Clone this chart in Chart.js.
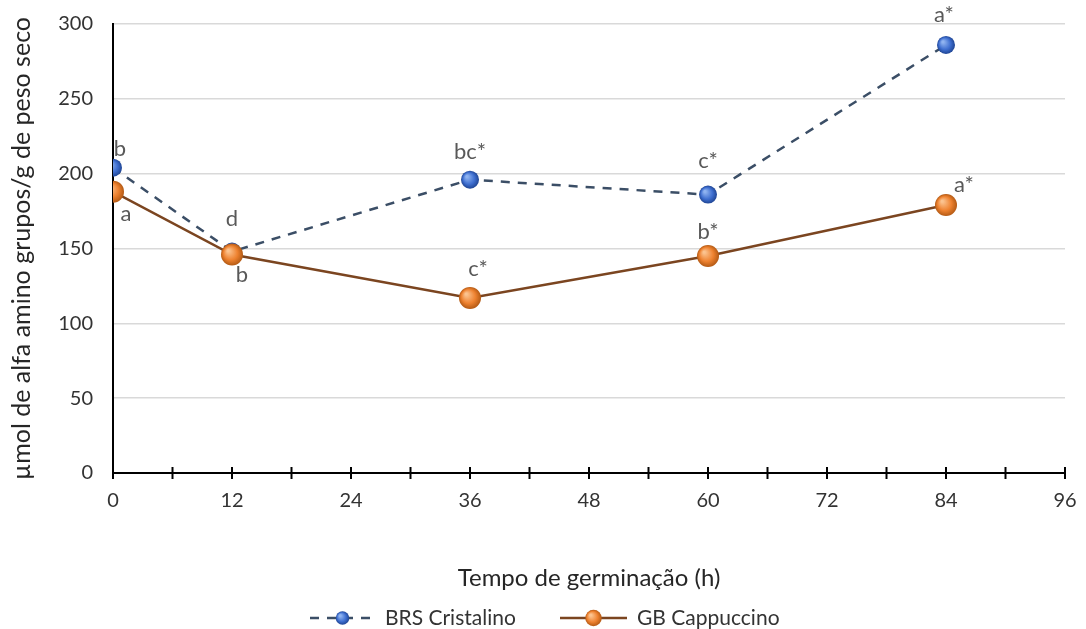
<!DOCTYPE html>
<html>
<head>
<meta charset="utf-8">
<script src="https://cdn.jsdelivr.net/npm/chart.js@4.4.0/dist/chart.umd.min.js"></script>
<style>
  html, body { margin: 0; padding: 0; background: #fff; }
  #wrap { width: 1086px; height: 629px; position: relative; }
</style>
</head>
<body>
<div id="wrap"><canvas id="grafico"></canvas></div>
<script>
// Dados
const horas = [0, 12, 36, 60, 84];
const cristalino = [204, 148, 196, 186, 286];
const cappuccino = [188, 146, 117, 145, 179];
const letrasCristalino = ["b", "d", "bc*", "c*", "a*"];
const letrasCappuccino = ["a", "b", "c*", "b*", "a*"];
const nomesSeries = ["BRS Cristalino", "GB Cappuccino"];
const tituloX = "Tempo de germinação (h)";
const tituloY = "µmol de alfa amino grupos/g de peso seco";

const FONTE = "Lato, 'Open Sans', sans-serif";

// deslocamento das letras em relação ao ponto (px)
const desloc = [
    [[7, -19], [0, -33], [0, -28], [0, -34], [-2, -30]],
    [[13, 22], [10, 20], [8, -29], [0, -24], [18, -20]]
];

// Gradiente "3D" dos marcadores
function gradiente(claro, base, escuro) {
    return (ctx) => {
        const el = ctx.element;
        if (!el || el.x === undefined) return base;
        const r = ctx.dataset.pointRadius || 8;
        const g = ctx.chart.ctx.createRadialGradient(el.x - r * 0.35, el.y - r * 0.35, 1, el.x, el.y, r);
        g.addColorStop(0, claro);
        g.addColorStop(0.6, base);
        g.addColorStop(1, escuro);
        return g;
    };
}

const pontos = (xs, ys) => xs.map((x, i) => ({ x: x, y: ys[i] }));

// Plugin: marcas cruzando o eixo X
const marcasEixo = {
    id: "marcasEixo",
    afterDatasetsDraw(chart) {
        const { ctx, scales: { x, y } } = chart;
        const y0 = y.getPixelForValue(0);
        ctx.save();
        ctx.strokeStyle = "#000";
        ctx.lineWidth = 2;
        x.ticks.forEach(t => {
            const px = x.getPixelForValue(t.value);
            ctx.beginPath();
            ctx.moveTo(px, y0 - 6);
            ctx.lineTo(px, y0 + 6);
            ctx.stroke();
        });
        ctx.restore();
    }
};

// Plugin: letras de significância
const letras = {
    id: "letras",
    afterDatasetsDraw(chart) {
        const { ctx } = chart;
        const todas = [letrasCristalino, letrasCappuccino];
        ctx.save();
        ctx.font = "22px " + FONTE;
        ctx.fillStyle = "#595959";
        ctx.textAlign = "center";
        ctx.textBaseline = "middle";
        todas.forEach((lista, d) => {
            const meta = chart.getDatasetMeta(d);
            meta.data.forEach((p, i) => {
                ctx.fillText(lista[i], p.x + desloc[d][i][0], p.y + desloc[d][i][1]);
            });
        });
        ctx.restore();
    }
};

// Plugin: legenda desenhada com linha + marcador
const legenda = {
    id: "legenda",
    afterDraw(chart) {
        const { ctx } = chart;
        const yL = 618;
        const itens = [
            { x0: 310, x1: 375, texto: nomesSeries[0], ds: chart.data.datasets[0] },
            { x0: 560, x1: 627, texto: nomesSeries[1], ds: chart.data.datasets[1] }
        ];
        ctx.save();
        itens.forEach(it => {
            const ds = it.ds;
            ctx.strokeStyle = ds.borderColor;
            ctx.lineWidth = ds.borderWidth;
            ctx.setLineDash(ds.borderDash || []);
            ctx.beginPath();
            ctx.moveTo(it.x0, yL);
            ctx.lineTo(it.x1, yL);
            ctx.stroke();
            ctx.setLineDash([]);
            const cx = (it.x0 + it.x1) / 2, r = ds.pointRadius * 0.75;
            const g = ctx.createRadialGradient(cx - r * 0.35, yL - r * 0.35, 1, cx, yL, r);
            g.addColorStop(0, ds.corClara);
            g.addColorStop(0.6, ds.corBase);
            g.addColorStop(1, ds.corEscura);
            ctx.fillStyle = g;
            ctx.beginPath();
            ctx.arc(cx, yL, r, 0, Math.PI * 2);
            ctx.fill();
            ctx.fillStyle = "#333";
            ctx.font = "21px " + FONTE;
            ctx.textAlign = "left";
            ctx.textBaseline = "middle";
            ctx.fillText(it.texto, it.x1 + 10, yL);
        });
        ctx.restore();
    }
};

new Chart(document.getElementById("grafico"), {
    type: "line",
    data: {
        datasets: [
            {
                label: nomesSeries[0],
                data: pontos(horas, cristalino),
                borderColor: "#3b4e66",
                borderWidth: 2.5,
                borderDash: [9, 8],
                pointRadius: 9,
                pointHoverRadius: 9,
                pointBorderWidth: 0,
                corClara: "#8fb3f0", corBase: "#3f6fd0", corEscura: "#1f4594",
                pointBackgroundColor: gradiente("#8fb3f0", "#3f6fd0", "#1f4594"),
                tension: 0,
                order: 2
            },
            {
                label: nomesSeries[1],
                data: pontos(horas, cappuccino),
                borderColor: "#7b4520",
                borderWidth: 2.5,
                pointRadius: 11,
                pointHoverRadius: 11,
                pointBorderWidth: 0,
                corClara: "#fbc38f", corBase: "#ee8230", corEscura: "#b45a14",
                pointBackgroundColor: gradiente("#fbc38f", "#ee8230", "#b45a14"),
                tension: 0,
                order: 1
            }
        ]
    },
    options: {
        responsive: true,
        maintainAspectRatio: false,
        animation: false,
        layout: { padding: { left: 0, top: 24, right: 21, bottom: 0 } },
        scales: {
            x: {
                type: "linear",
                min: 0,
                max: 96,
                afterFit: (s) => { s.height = 156; },
                grid: { display: false },
                border: { display: true, color: "#000", width: 2 },
                ticks: {
                    stepSize: 6,
                    autoSkip: false,
                    maxRotation: 0,
                    padding: 8,
                    color: "#333",
                    font: { family: FONTE, size: 20 },
                    callback: (v) => (v % 12 === 0 ? v : "")
                },
                title: {
                    display: true,
                    text: tituloX,
                    color: "#262626",
                    font: { family: FONTE, size: 24 },
                    padding: { top: 0, bottom: 36 }
                }
            },
            y: {
                min: 0,
                max: 300,
                afterFit: (s) => { s.width = 113; },
                grid: { color: "#d9d9d9", lineWidth: 1.5, drawTicks: true, tickLength: 10, tickColor: "rgba(0,0,0,0)" },
                border: { display: true, color: "#000", width: 2 },
                ticks: {
                    stepSize: 50,
                    padding: 10,
                    color: "#333",
                    font: { family: FONTE, size: 20 }
                },
                title: {
                    display: true,
                    text: tituloY,
                    color: "#262626",
                    font: { family: FONTE, size: 25 },
                    padding: { top: 7, bottom: 0 }
                }
            }
        },
        plugins: {
            legend: { display: false },
            tooltip: { enabled: false }
        }
    },
    plugins: [marcasEixo, letras, legenda]
});
</script>
</body>
</html>
